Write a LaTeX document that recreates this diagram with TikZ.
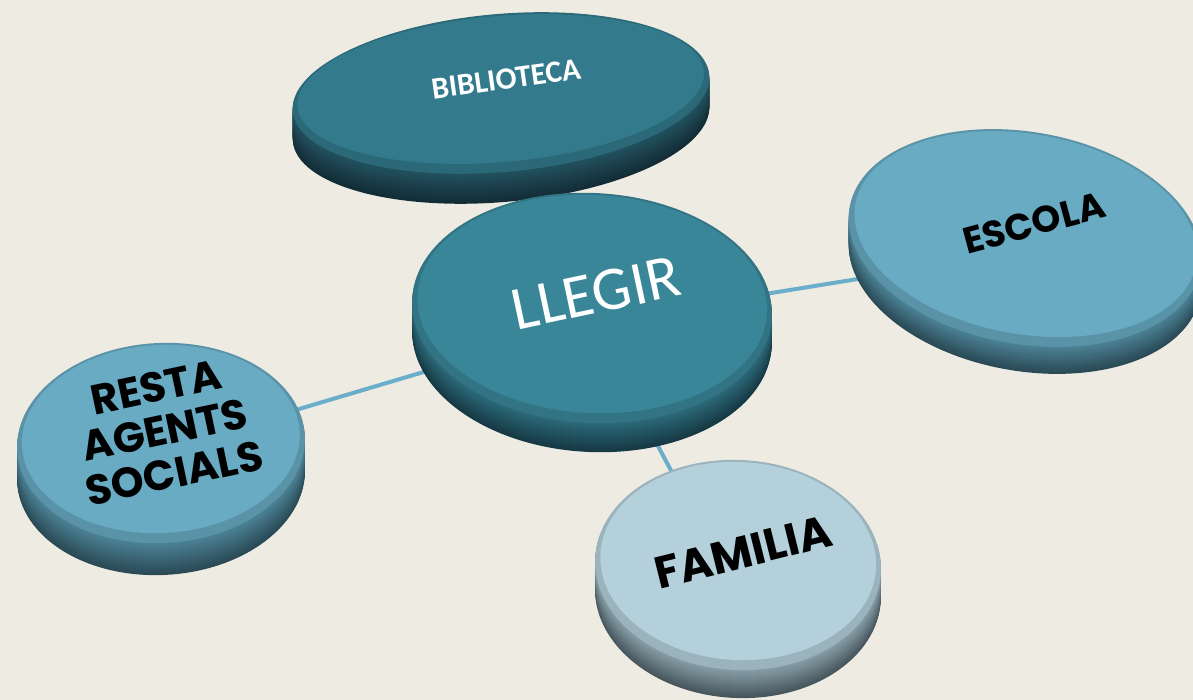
\documentclass[tikz,border=0pt]{standalone}
\usepackage{fontspec}
\setmainfont{Carlito}
\newfontfamily\blackfont{Poppins}
\definecolor{bg}{HTML}{EEECE2}
\definecolor{connc}{HTML}{6AAECB}
\definecolor{bibface}{HTML}{337A8C}
\definecolor{bibtop}{HTML}{22525F}
\definecolor{bibbot}{HTML}{132C36}
\definecolor{llgface}{HTML}{3A8699}
\definecolor{llgtop}{HTML}{2C6A7A}
\definecolor{llgbot}{HTML}{163944}
\definecolor{escface}{HTML}{68ABC3}
\definecolor{esctop}{HTML}{4C8396}
\definecolor{escbot}{HTML}{2A4955}
\definecolor{famface}{HTML}{B4D0DB}
\definecolor{famtop}{HTML}{889FA8}
\definecolor{fambot}{HTML}{47565D}
% #1 cx, #2 cy, #3 rx, #4 ry, #5 rot, #6 thickness, #7 colour prefix
\newcommand{\mydisc}[7]{%
  \foreach \i in {#6,...,1}{%
    \pgfmathtruncatemacro{\p}{100*(#6-\i)/#6}%
    \begin{scope}[shift={(#1,#2-\i)},rotate=#5]
      \fill[#7top!\p!#7bot] (0,0) ellipse [x radius=#3, y radius=#4];
    \end{scope}}%
  \begin{scope}[shift={(#1,#2)},rotate=#5]
    \fill[#7face!86!black] (0,0) ellipse [x radius=#3, y radius=#4];
    \fill[#7face] (0,4) ellipse [x radius=#3-5, y radius=#4-6];
  \end{scope}}
\tikzset{
  conn/.style={line width=4pt, draw=connc},
  whitetxt/.style={text=white, font=#1},
  blktxt/.style n args={2}{text=black, font=\blackfont\bfseries\fontsize{#1}{#2}\selectfont, align=center},
}
\begin{document}
\begin{tikzpicture}[x=1pt,y=1pt]
\useasboundingbox (0,0) rectangle (1193,700);
\fill[bg] (0,0) rectangle (1193,700);
% centres (y = 700 - image y)
\coordinate (cllegir) at (592,378);
\coordinate (cescola) at (1025,448);
\coordinate (cresta) at (161,250);
\coordinate (cfamilia) at (725,128);
% connectors
\draw[conn] (cllegir) -- (cescola);
\draw[conn] (cllegir) -- (cresta);
\draw[conn] (cllegir) -- (cfamilia);
% discs
\mydisc{501}{607}{209}{79}{5}{30}{bib}
\mydisc{1025}{462}{178}{106}{-10}{27}{esc}
\mydisc{161}{257}{144}{100}{3}{32}{esc}
\mydisc{738}{135}{143}{105}{-3}{28}{fam}
\mydisc{592}{392}{180}{115}{-3}{29}{llg}
% texts
\node[whitetxt={\bfseries\fontsize{31}{31}\selectfont}, rotate=8] (tbib) at (506,621) {BIBLIOTECA};
\node[whitetxt={\fontsize{62}{62}\selectfont}, rotate=12] (tllegir) at (596,407) {LLEGIR};
\node[blktxt={37}{41}, rotate=15] (tescola) at (1034,477) {ESCOLA};
\node[blktxt={42}{44}, rotate=12] (tresta) at (165,270) {RESTA\\AGENTS\\SOCIALS};
\node[blktxt={45}{49}, rotate=14] (tfamilia) at (743,148) {FAMILIA};
\end{tikzpicture}
\end{document}
